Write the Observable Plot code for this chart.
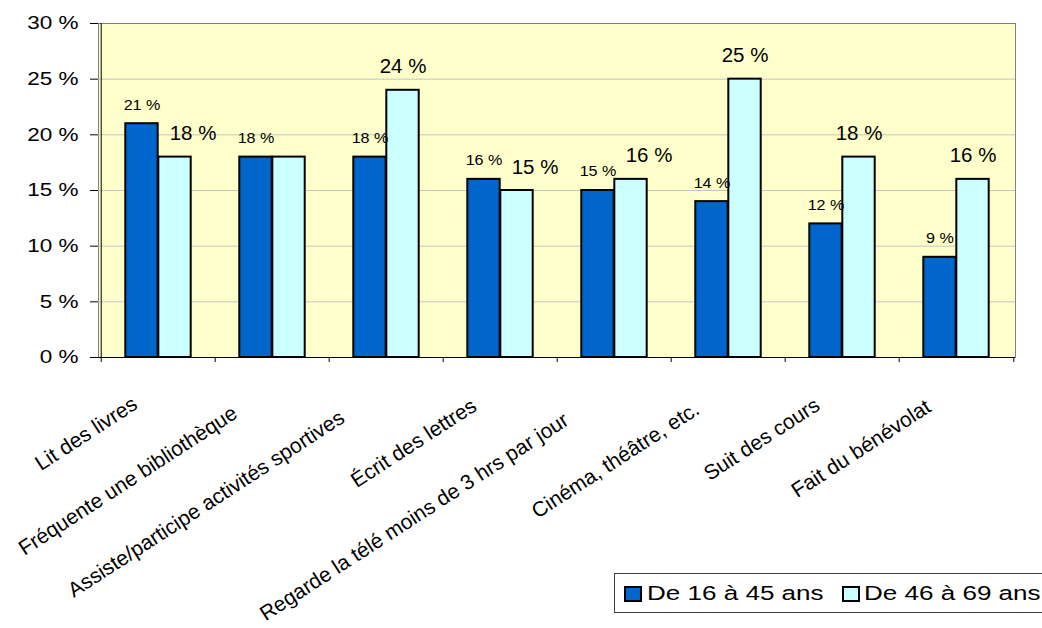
<!DOCTYPE html>
<html>
<head>
<meta charset="utf-8">
<script src="https://cdn.jsdelivr.net/npm/d3@7"></script>
<script src="https://cdn.jsdelivr.net/npm/@observablehq/plot@0.6"></script>
<style>
  body { margin: 0; background: #fff; font-family: "Liberation Sans", Arial, sans-serif; }
  #wrap { position: relative; width: 1042px; height: 628px; overflow: hidden; }
  #legend { position: absolute; left: 614px; top: 573px; width: 450px; height: 40px;
            border: 1px solid #404040; background: #fff; box-sizing: border-box; }
  .sw { position: absolute; top: 12px; width: 18px; height: 16px; border: 2px solid #000; box-sizing: border-box; }
  .lt { position: absolute; top: 0; line-height: 38px; font-size: 20.5px; white-space: nowrap; color: #000;
        transform: scaleX(1.27); transform-origin: left center; }
</style>
</head>
<body>
<div id="wrap">
  <div id="chart"></div>
  <div id="legend"></div>
</div>
<script>
const categories = [
  "Lit des livres",
  "Fréquente une bibliothèque",
  "Assiste/participe activités sportives",
  "Écrit des lettres",
  "Regarde la télé moins de 3 hrs par jour",
  "Cinéma, théâtre, etc.",
  "Suit des cours",
  "Fait du bénévolat"
];
const seriesNames = ["De 16 à 45 ans", "De 46 à 69 ans"];
const values16to45 = [21, 18, 18, 16, 15, 14, 12, 9];
const values46to69 = [18, 18, 24, 15, 16, 25, 18, 16];
const shown46to69 = [true, false, true, true, true, true, true, true];
const seriesColors = ["#0066CC", "#CCFFFF"];
const yTicks = [0, 5, 10, 15, 20, 25, 30];

const rowsA = categories.map((c, i) => ({category: c, value: values16to45[i]}));
const rowsB = categories.map((c, i) => ({category: c, value: values46to69[i], shown: shown46to69[i],
  crowded: Math.abs(values46to69[i] - values16to45[i]) <= 3}));

const W = 1042, H = 628, mL = 98, mR = 27, mT = 23, mB = 271;
const step = (W - mL - mR) / categories.length;
const barW = step * 0.288;
const outer = (step - 2 * barW) / 2;
const pct = v => `${v} %`;

const chart = Plot.plot({
  width: W, height: H,
  marginLeft: mL, marginRight: mR, marginTop: mT, marginBottom: mB,
  style: {fontFamily: "'Liberation Sans', Arial, sans-serif", background: "transparent", color: "#000"},
  x: {type: "band", domain: categories, padding: 0, axis: null},
  y: {domain: [0, 30], axis: null},
  marks: [
    Plot.frame({fill: "#FFFFCC", stroke: "#808080"}),
    Plot.gridY(yTicks.filter(t => t > 0 && t < 30), {stroke: "#C4C4C4", strokeOpacity: 1}),
    Plot.barY(rowsA, {x: "category", y: "value", fill: seriesColors[0], stroke: "#000", strokeWidth: 2,
      insetLeft: outer, insetRight: step - outer - barW}),
    Plot.barY(rowsB, {x: "category", y: "value", fill: seriesColors[1], stroke: "#000", strokeWidth: 2,
      insetLeft: outer + barW, insetRight: outer}),
    Plot.ruleY([0], {stroke: "#000"}),
    Plot.ruleX([categories[0]], {x: d => d, dx: -step / 2, stroke: "#000"}),
    Plot.axisY({ticks: yTicks, tickSize: 8, tickPadding: 12, tickFormat: pct, fontSize: 18, label: null, stroke: "#000"}),
    Plot.axisX({ticks: categories, tickSize: 5, tickFormat: () => "", label: null, dx: -step / 2, stroke: "#000"}),
    Plot.axisX({ticks: [categories[categories.length - 1]], tickSize: 5, tickFormat: () => "", label: null, dx: step / 2, stroke: "#000"}),
    // text groups, in this order: [0] series A labels, [1] series B labels, [2] crowded series B labels, [3] categories
    Plot.text(rowsA, {x: "category", y: "value", text: d => pct(d.value), dx: -barW / 2, dy: -19, fontSize: 15.5}),
    Plot.text(rowsB.filter(d => d.shown && !d.crowded), {x: "category", y: "value", text: d => pct(d.value),
      dx: barW / 2, dy: -23.5, fontSize: 20.5}),
    Plot.text(rowsB.filter(d => d.shown && d.crowded), {x: "category", y: "value", text: d => pct(d.value),
      dx: barW / 2 + 18, dy: -23.5, fontSize: 20.5}),
    Plot.text(categories, {x: d => d, frameAnchor: "bottom", text: d => d, rotate: -33, textAnchor: "end", lineAnchor: "top",
      dx: -16, dy: 30, fontSize: 21})
  ]
});
document.getElementById("chart").appendChild(chart);

function stretch(nodes, s) {
  nodes.forEach(t => {
    const x = parseFloat(t.getAttribute("x")) || 0;
    const tr = t.getAttribute("transform") || "";
    t.setAttribute("transform", `${tr} translate(${x},0) scale(${s},1) translate(${-x},0)`);
  });
}
const textGroups = chart.querySelectorAll('g[aria-label="text"]');
stretch(chart.querySelectorAll('g[aria-label="y-axis tick label"] text'), 1.25);
stretch(textGroups[0].querySelectorAll("text"), 1.04);
textGroups[3].querySelectorAll("text").forEach(t => {
  const L = t.getComputedTextLength();
  const tr = t.getAttribute("transform") || "";
  t.setAttribute("transform", `${tr} translate(${-0.12 * L},0)`);
});

const legend = document.getElementById("legend");
const swLeft = [9, 227], txtLeft = [32, 249];
seriesNames.forEach((name, i) => {
  const sw = document.createElement("div");
  sw.className = "sw";
  sw.style.left = swLeft[i] + "px";
  sw.style.background = seriesColors[i];
  legend.appendChild(sw);
  const lt = document.createElement("div");
  lt.className = "lt";
  lt.style.left = txtLeft[i] + "px";
  lt.textContent = name;
  legend.appendChild(lt);
});
</script>
</body>
</html>
